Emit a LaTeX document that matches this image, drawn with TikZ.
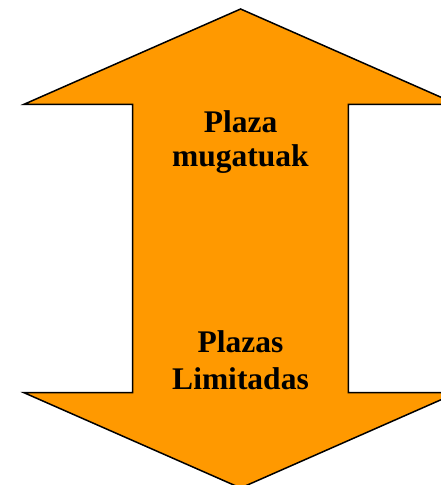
\documentclass[tikz,border=0pt]{standalone}
\usepackage{fontspec}
\setmainfont{Liberation Serif}
\definecolor{arroworange}{RGB}{255,153,0}
\tikzset{
  arrowshape/.style={fill=arroworange, draw=black, line width=1.5pt, line join=miter},
  label/.style={font=\fontsize{31.5}{34}\selectfont\bfseries, inner sep=0pt, anchor=base}
}
\begin{document}
\begin{tikzpicture}[x=1pt,y=-1pt]
\useasboundingbox (0,0) rectangle (441,485);
\clip (0,0) rectangle (441,485);
\draw[arrowshape] (240.6,9) -- (457,104.3) -- (348.3,104.3) -- (348.3,392.7) -- (457,392.7)
  -- (240.6,488) -- (24,392.7) -- (132.7,392.7) -- (132.7,104.3) -- (24,104.3) -- cycle;
\node[label] (t1) at (240.5,132.3) {Plaza};
\node[label] (t2) at (240.5,166.7) {mugatuak};
\node[label] (b1) at (240.5,352.3) {Plazas};
\node[label] (b2) at (240.5,389.3) {Limitadas};
\end{tikzpicture}
\end{document}
